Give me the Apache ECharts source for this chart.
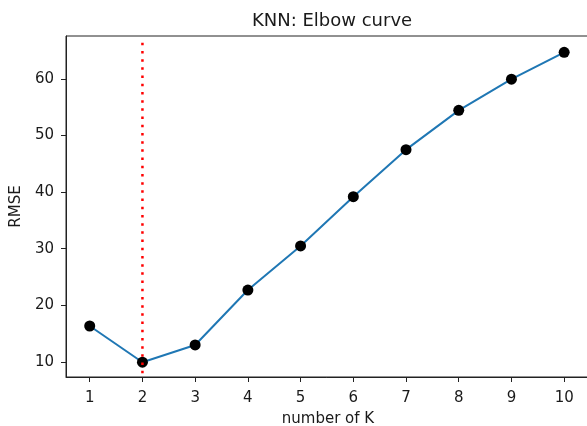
<!DOCTYPE html>
<html>
<head>
<meta charset="utf-8">
<script src="https://cdn.jsdelivr.net/npm/echarts@6/dist/echarts.min.js"></script>
<style>
  html, body { margin: 0; padding: 0; background: #fff; }
  #chart { width: 587px; height: 426px; }
</style>
</head>
<body>
<div id="chart"></div>
<script>
// Number of neighbours tried and the resulting validation error
const kValues = [1, 2, 3, 4, 5, 6, 7, 8, 9, 10];
const rmseValues = [16.35, 9.95, 13.0, 22.7, 30.5, 39.2, 47.5, 54.45, 59.95, 64.7];
// Chosen k, marked with a vertical line
const bestK = 2;
const markerSpan = [8.0, 66.7];
const yTicks = [10, 20, 30, 40, 50, 60];

const FONT = 'DejaVu Sans';
const TEXT = '#1a1a1a';

const chart = echarts.init(document.getElementById('chart'), null, { renderer: 'canvas' });

chart.setOption({
  animation: false,
  backgroundColor: '#fff',
  title: {
    text: 'KNN: Elbow curve',
    left: 327,
    top: 7,
    textAlign: 'center',
    textStyle: { fontFamily: FONT, fontSize: 18, fontWeight: 'normal', color: TEXT }
  },
  grid: {
    left: 66, top: 36, width: 524, height: 341,
    containLabel: false,
    outerBoundsMode: 'none',
    show: true, borderColor: '#222', borderWidth: 1, backgroundColor: 'transparent'
  },
  xAxis: {
    type: 'value',
    min: 0.55, max: 10.49,
    name: 'number of K',
    nameLocation: 'middle',
    nameGap: 35,
    nameTextStyle: { fontFamily: FONT, fontSize: 15, color: TEXT },
    splitLine: { show: false },
    axisLine: { show: true, lineStyle: { color: '#222', width: 1 } },
    axisTick: { show: true, length: 5, lineStyle: { color: '#222' }, customValues: kValues },
    axisLabel: { fontFamily: FONT, fontSize: 15, color: TEXT, margin: 14, customValues: kValues }
  },
  yAxis: {
    type: 'value',
    min: 7.34, max: 67.58,
    name: 'RMSE',
    nameLocation: 'middle',
    nameGap: 36,
    nameRotate: 90,
    nameTextStyle: { fontFamily: FONT, fontSize: 15, color: TEXT },
    splitLine: { show: false },
    axisLine: { show: true, lineStyle: { color: '#222', width: 1 } },
    axisTick: { show: true, length: 5, lineStyle: { color: '#222' }, customValues: yTicks },
    axisLabel: { fontFamily: FONT, fontSize: 15, color: TEXT, margin: 12, customValues: yTicks }
  },
  series: [
    {
      type: 'line',
      data: kValues.map((k, i) => [k, rmseValues[i]]),
      symbol: 'circle',
      symbolSize: 11,
      itemStyle: { color: '#000' },
      lineStyle: { color: '#1f77b4', width: 2 },
      z: 2
    },
    {
      type: 'line',
      data: markerSpan.map(v => [bestK, v]),
      showSymbol: false,
      symbol: 'none',
      lineStyle: { color: '#ff0000', width: 2.5, type: [2.5, 5.7], cap: 'butt' },
      z: 3
    }
  ]
});
</script>
</body>
</html>
